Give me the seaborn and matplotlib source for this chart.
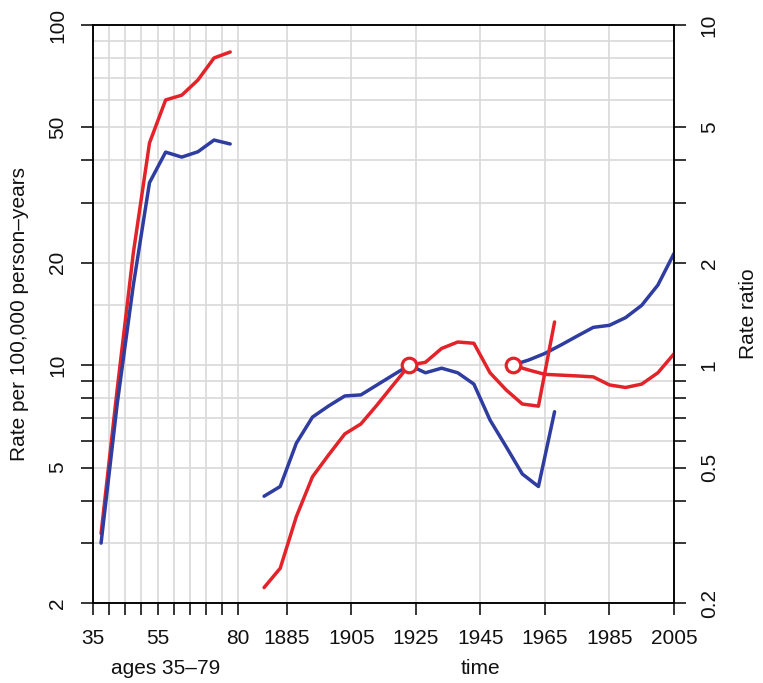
import numpy as np
import matplotlib
matplotlib.use("Agg")
import matplotlib.pyplot as plt
import seaborn as sns
from matplotlib.ticker import FixedLocator, FixedFormatter, NullFormatter
from matplotlib.transforms import blended_transform_factory

# ---------------- data ----------------
ages = [37.5, 42.5, 47.5, 52.5, 57.5, 62.5, 67.5, 72.5, 77.5]
age_rate_red = [3.2, 8.5, 21.4, 45.0, 60.2, 62.2, 68.9, 80.0, 83.3]
age_rate_blue = [3.0, 7.7, 17.2, 34.4, 42.3, 40.9, 42.4, 45.9, 44.7]

cohort_years = [1878, 1883, 1888, 1893, 1898, 1903, 1908, 1913, 1918, 1923,
                1928, 1933, 1938, 1943, 1948, 1953, 1958, 1963, 1968]
cohort_rr_red = [0.222, 0.253, 0.359, 0.470, 0.545, 0.628, 0.672, 0.764, 0.875, 1.0,
                 1.02, 1.12, 1.17, 1.16, 0.95, 0.846, 0.769, 0.758, 1.34]
cohort_rr_blue = [0.412, 0.440, 0.590, 0.704, 0.759, 0.812, 0.818, 0.875, 0.936, 1.0,
                  0.950, 0.980, 0.950, 0.880, 0.690, 0.576, 0.479, 0.440, 0.730]

period_years = [1955, 1960, 1965, 1970, 1975, 1980, 1985, 1990, 1995, 2000, 2005]
period_rr_red = [1.0, 0.968, 0.940, 0.935, 0.930, 0.924, 0.875, 0.860, 0.880, 0.950, 1.08]
period_rr_blue = [1.0, 1.036, 1.083, 1.147, 1.218, 1.292, 1.310, 1.380, 1.500, 1.720, 2.13]

ref_cohort = 1923
ref_period = 1955

age_major_ticks = [35, 55, 80]
age_minor_ticks = [40, 45, 50, 60, 65, 70, 75]
year_ticks = [1885, 1905, 1925, 1945, 1965, 1985, 2005]
rate_ticks = [2, 5, 10, 20, 50, 100]
rate_tick_labels = ["2", "5", "10", "20", "50", "100"]
rate_minor = [3, 4, 6, 7, 8, 9, 30, 40]
rr_ticks = [0.2, 0.5, 1, 2, 5, 10]
rr_tick_labels = ["0.2", "0.5", "1", "2", "5", "10"]
rr_minor = [0.3, 0.4, 0.6, 0.7, 0.8, 0.9, 3, 4]
grid_rates = [2, 3, 4, 5, 6, 7, 8, 9, 10, 15, 20, 30, 40, 50, 60, 70, 80, 90, 100]
grid_ages = [35, 40, 45, 50, 55, 60, 65, 70, 75, 80]
grid_years = [1885, 1905, 1925, 1945, 1965, 1985, 2005]

YEAR_OFFSET = 1790   # calendar time placed to the right of the age scale

RED = "#e3232a"
BLUE = "#2e3d9f"
GRID = "#d9d9d9"

# ---------------- style ----------------
sns.set_theme(style="white")
plt.rcParams["font.family"] = ["Liberation Sans", "DejaVu Sans"]
FS = 15

fig = plt.figure(figsize=(7.63, 6.83), dpi=100)
ax = fig.add_axes([93 / 763, 80 / 683, 581 / 763, 578 / 683])
ax.set_yscale("log")
ax.set_xlim(35, 2005 - YEAR_OFFSET)
ax.set_ylim(2, 100)

for r in grid_rates:
    ax.axhline(r, color=GRID, lw=1.2, zorder=0)
for a in grid_ages:
    ax.axvline(a, color=GRID, lw=1.2, zorder=0)
for y in grid_years:
    ax.axvline(y - YEAR_OFFSET, color=GRID, lw=1.2, zorder=0)

LW = 2.5
sns.lineplot(x=ages, y=age_rate_red, ax=ax, color=RED, lw=LW, estimator=None, sort=False)
sns.lineplot(x=ages, y=age_rate_blue, ax=ax, color=BLUE, lw=LW, estimator=None, sort=False)

ax2 = ax.twinx()
ax2.set_yscale("log")
ax2.set_ylim(0.2, 10)
ax2.set_xlim(ax.get_xlim())

cx = np.array(cohort_years) - YEAR_OFFSET
px = np.array(period_years) - YEAR_OFFSET
sns.lineplot(x=cx, y=cohort_rr_blue, ax=ax2, color=BLUE, lw=LW, estimator=None, sort=False)
sns.lineplot(x=px, y=period_rr_blue, ax=ax2, color=BLUE, lw=LW, estimator=None, sort=False)
sns.lineplot(x=cx, y=cohort_rr_red, ax=ax2, color=RED, lw=LW, estimator=None, sort=False)
sns.lineplot(x=px, y=period_rr_red, ax=ax2, color=RED, lw=LW, estimator=None, sort=False)
sns.scatterplot(x=[ref_cohort - YEAR_OFFSET, ref_period - YEAR_OFFSET], y=[1, 1], ax=ax2,
                s=110, facecolor="white", edgecolor=RED, linewidth=2.3, zorder=5)

# ---------------- axes / ticks ----------------
xmaj = age_major_ticks + [y - YEAR_OFFSET for y in year_ticks]
xlab = [str(a) for a in age_major_ticks] + [str(y) for y in year_ticks]
ax.xaxis.set_major_locator(FixedLocator(xmaj))
ax.xaxis.set_major_formatter(FixedFormatter(xlab))
ax.xaxis.set_minor_locator(FixedLocator(age_minor_ticks))
ax.xaxis.set_minor_formatter(NullFormatter())

ax.yaxis.set_major_locator(FixedLocator(rate_ticks))
ax.yaxis.set_major_formatter(FixedFormatter(rate_tick_labels))
ax.yaxis.set_minor_locator(FixedLocator(rate_minor))
ax.yaxis.set_minor_formatter(NullFormatter())

ax2.yaxis.set_major_locator(FixedLocator(rr_ticks))
ax2.yaxis.set_major_formatter(FixedFormatter(rr_tick_labels))
ax2.yaxis.set_minor_locator(FixedLocator(rr_minor))
ax2.yaxis.set_minor_formatter(NullFormatter())

for a in (ax, ax2):
    a.tick_params(which="both", direction="out", length=8.6, width=1.1, color="black",
                  labelsize=FS, labelcolor="#111111", pad=10)
    for s in a.spines.values():
        s.set_color("black")
        s.set_linewidth(1.1)
    a.set_xlabel("")
    a.set_ylabel("")
ax.tick_params(axis="x", which="both", bottom=True)
ax.tick_params(axis="y", which="both", left=True, right=False)
ax2.tick_params(axis="y", which="both", right=True, left=False)

for lbl in ax.get_yticklabels():
    lbl.set_rotation(90)
    lbl.set_va("center")
for lbl in ax2.get_yticklabels():
    lbl.set_rotation(90)
    lbl.set_va("center")

tr = blended_transform_factory(ax.transData, ax.transAxes)
ax.text(57.5, -0.113, "ages 35\u201379", transform=tr, ha="center", va="center",
        fontsize=FS, color="#111111")
ax.text(1945 - YEAR_OFFSET, -0.113, "time", transform=tr, ha="center", va="center",
        fontsize=FS, color="#111111")

fig.text(20 / 763, 1 - 314 / 683, "Rate per 100,000 person\u2013years", rotation=90,
         ha="center", va="center", fontsize=FS, color="#111111")
fig.text(749 / 763, 1 - 314 / 683, "Rate ratio", rotation=90,
         ha="center", va="center", fontsize=FS, color="#111111")

fig.savefig("out.png", dpi=100, facecolor="white")
